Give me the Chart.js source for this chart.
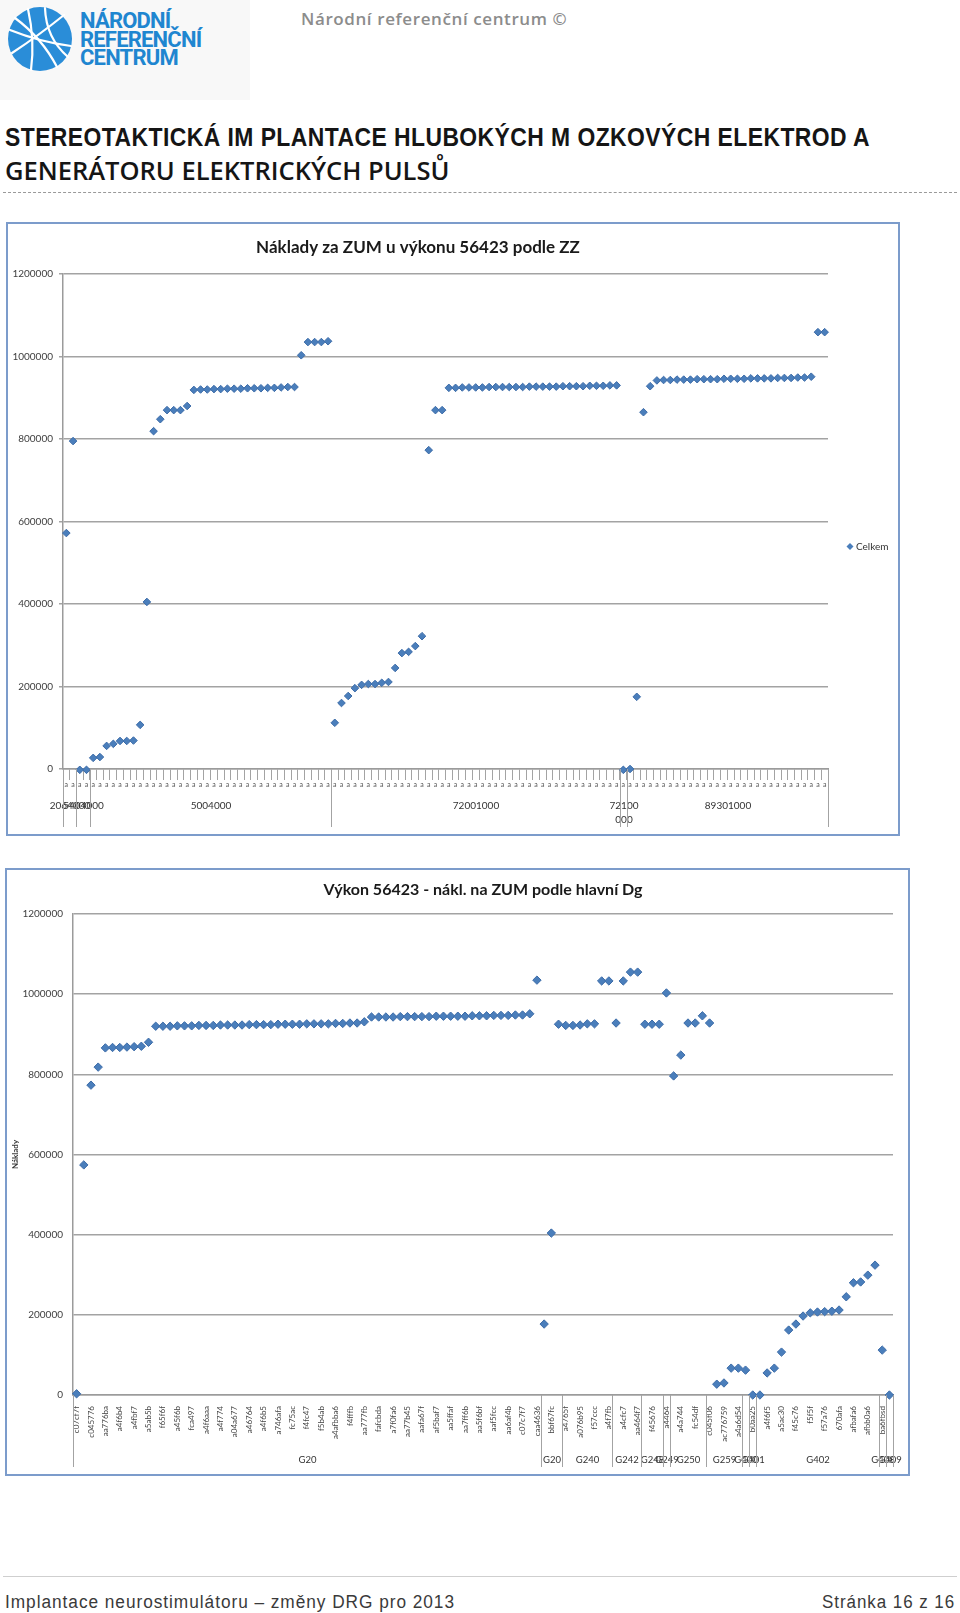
<!DOCTYPE html>
<html lang="cs">
<head>
<meta charset="utf-8">
<title>Implantace neurostimulátoru – změny DRG pro 2013</title>
<script src="https://cdn.jsdelivr.net/npm/chart.js"></script>
<style>
  html, body { margin: 0; padding: 0; background: #fff; }
  .page { position: relative; width: 960px; height: 1613px; overflow: hidden; font-family: "Liberation Sans", Arial, sans-serif; }
  .logo-bg { position: absolute; left: 0; top: 0; width: 250px; height: 100px; background: #f8f8f8; }
  .logo-svg { position: absolute; left: 0; top: 0; }
  .logo-text { position: absolute; left: 80px; top: 12px; font-family: Roboto, sans-serif; font-weight: 700; font-size: 22px; line-height: 18.5px; letter-spacing: -0.8px; color: #1f86d0; }
  .head-note { position: absolute; left: 301px; top: 10px; font-family: "Open Sans", sans-serif; font-weight: 600; font-size: 17px; line-height: 17px; letter-spacing: 0.6px; color: #8c8c8c; }
  .title1 { position: absolute; left: 5px; top: 124px; white-space: nowrap; font-family: "Liberation Sans", Arial, sans-serif; font-weight: 700; font-size: 26px; line-height: 26px; letter-spacing: 0.5px; color: #151515; }
  .title2 { position: absolute; left: 5px; top: 157px; white-space: nowrap; font-family: "Open Sans", sans-serif; font-weight: 600; font-size: 25.5px; line-height: 26px; color: #151515; }
  .rule { position: absolute; left: 3px; top: 192px; width: 954px; border-top: 1px dashed #9a9a9a; }
  .box { position: absolute; border: 2px solid #7c9ccb; background: #fff; }
  .box canvas { display: block; }
  .foot-rule { position: absolute; left: 3px; top: 1576px; width: 954px; border-top: 1px solid #cfcfcf; }
  .foot { position: absolute; top: 1593px; font-family: "Liberation Sans", Arial, sans-serif; font-size: 18px; line-height: 18px; letter-spacing: 1px; color: #3a3a3a; white-space: nowrap; }
</style>
</head>
<body>
<div class="page">
  <div class="logo-bg"></div>
  <svg class="logo-svg" width="90" height="90">
    <circle cx="40" cy="39" r="32" fill="#2a8dd8"/>
    <g stroke="#fff" stroke-width="2.2" fill="none" stroke-linecap="round">
      <path d="M10 30 Q40 42 71 46"/>
      <path d="M12 53 Q38 36 64 15"/>
      <path d="M28 9 Q35 40 31 70"/>
      <path d="M15 18 Q42 38 57 67"/>
      <path d="M45 8 Q46 38 68 57"/>
    </g>
  </svg>
  <div class="logo-text">NÁRODNÍ<br>REFERENČNÍ<br>CENTRUM</div>
  <div class="head-note">Národní referenční centrum ©</div>

  <div class="title1" id="title1">STEREOTAKTICKÁ IM PLANTACE HLUBOKÝCH M OZKOVÝCH ELEKTROD A</div>
  <div class="title2">GENERÁTORU ELEKTRICKÝCH PULSŮ</div>
  <div class="rule"></div>

  <div class="box" style="left:6px; top:222px;"><canvas id="chartZZ" width="890" height="610"></canvas></div>
  <div class="box" style="left:5px; top:868px;"><canvas id="chartDg" width="901" height="604"></canvas></div>

  <div class="foot-rule"></div>
  <div class="foot" id="footLeft" style="left:5px;">Implantace neurostimulátoru – změny DRG pro 2013</div>
  <div class="foot" id="footRight" style="right:5px;">Stránka 16 z 16</div>
</div>

<script>
// graf 1: naklady podle ZZ (poradi bodu odpovida kategoriim na ose x)
const zzCosts = [
  572000, 795000, -2000, -2000, 27000, 29000, 56000, 61000, 68000, 68000,
  69000, 107000, 405000, 819000, 848000, 870000, 870000, 870000, 880000,
  919000, 920000, 920000, 921000, 921000, 922000, 922000, 922000, 923000, 923000,
  923000, 924000, 924000, 925000, 926000, 926000,
  1003000, 1035000, 1035000, 1035000, 1037000,
  112000, 160000, 177000, 196000, 204000, 206000, 206000, 209000, 211000, 245000,
  281000, 284000, 298000, 322000,
  773000, 870000, 870000,
  924000, 924000, 925000, 925000, 925000, 925000, 926000, 926000, 926000, 926000,
  926000, 926000, 927000, 927000, 927000, 927000, 927000, 928000, 928000, 928000,
  928000, 929000, 929000, 929000, 930000, 930000,
  -2000, 0, 175000, 865000, 928000,
  942000, 943000, 943000, 944000, 944000, 944000, 945000, 945000, 945000, 945000,
  946000, 946000, 946000, 946000, 947000, 947000, 947000, 947000, 948000, 948000,
  948000, 949000, 949000, 951000,
  1059000, 1059000
];
const zzTickLabels = zzCosts.map(() => 'a');
const zzGroups = ['2064000', '5404000', '5004000', '72001000', ['72100', '000'], '89301000'];
const zzGroupSizes = [2, 2, 36, 43, 1, 30];

// graf 2: naklady podle hlavni diagnozy
const dgCosts = [
  3000, 574000, 773000, 818000, 866000, 867000, 867000, 868000, 869000, 870000,
  880000,
  920000, 920000, 920000, 921000, 921000, 921000, 922000, 922000, 922000, 923000,
  923000, 923000, 923000, 924000, 924000, 924000, 924000, 925000, 925000, 925000,
  925000, 926000, 926000, 926000, 926000, 927000, 927000, 928000, 928000, 931000,
  943000, 943000, 943000, 943000, 944000, 944000, 944000, 944000, 944000, 945000,
  945000, 945000, 945000, 945000, 946000, 946000, 946000, 947000, 947000, 947000,
  948000, 948000, 951000,
  1035000,
  177000, 404000, 925000,
  922000, 922000, 923000, 926000, 926000, 1033000, 1033000,
  928000, 1033000, 1055000, 1055000,
  925000, 925000, 925000,
  1003000,
  796000, 848000, 928000, 928000, 946000,
  928000, 27000, 30000, 67000, 67000,
  62000,
  0,
  0, 55000, 67000, 107000, 162000, 177000, 197000, 205000, 207000, 208000,
  209000, 212000, 245000, 280000, 282000, 299000, 324000,
  112000,
  0
];
const dgHashes = [
  'c07cf7f', 'c045776', 'aa776ba', 'a4f6b4', 'a4fbf7', 'a5ab5b', 'f65f6f', 'a45f6b',
  'fca497', 'a4f6aaa', 'a4f774', 'a04a677', 'a46764', 'a4f6b5', 'a746afa', 'fc75ac',
  'f4fc47', 'f5b4ab', 'a4afbba6', 'f4fffb', 'aa777fb', 'fafcbda', 'a7f0fa6', 'aa77b45',
  'aafa67f', 'af5baf7', 'aa5ffaf', 'aa7ff6b', 'aa5f6bf', 'aaf5fcc', 'aa6af4b', 'c07c7f7',
  'caa4636', 'bbf67fc', 'a4765f', 'a076b95', 'f57ccc', 'a4f7fb', 'a4cfc7', 'aa464f7',
  'f45676', 'a4464', 'a4a744', 'fc54df', 'c045f06', 'ac776759', 'a4a6d54', 'b0aa25',
  'a4f6f5', 'a5ac30', 'f45c76', 'f5f5f', 'f57a76', '670afa', 'afbafa6', 'afbb0a6', 'ba6fbsd'
];
// popisek jen u kazde druhe kategorie, jako v Excelu
const dgTickLabels = dgCosts.map((_, i) => (i % 2 ? '' : dgHashes[i / 2]));
const dgGroups = ['G20', 'G20', 'G240', 'G242', 'G248', 'G249', 'G250', 'G259', 'G400', 'G401', 'G402', 'G408', 'G409'];
const dgGroupSizes = [65, 3, 7, 4, 3, 1, 5, 5, 1, 1, 17, 1, 1];

const yTicks = [0, 200000, 400000, 600000, 800000, 1000000, 1200000];

const POINT = '#4a7ebb';
const POINT_EDGE = '#3d6ca8';
const GRID = '#a3a3a3';

// zuzeny text (v PDF je pismo Arial Narrow, tady neni) - dorovnat na sirku
function fitWidth(el, w, origin) {
  const now = el.getBoundingClientRect().width;
  el.style.transformOrigin = origin;
  el.style.transform = 'scaleX(' + (w / now) + ')';
}
fitWidth(document.getElementById('title1'), 865, '0 0');
fitWidth(document.getElementById('footLeft'), 450, '0 0');
fitWidth(document.getElementById('footRight'), 133, '100% 0');

Chart.defaults.font.family = 'Lato, "Open Sans", sans-serif';
Chart.defaults.color = '#333';

// druha uroven osy x (skupiny kategorii) - svisle oddelovace a popisky
function groupAxis(names, sizes, cfg) {
  return {
    id: 'groupAxis',
    afterDraw(chart) {
      const {ctx, chartArea, scales: {x}} = chart;
      const edge = i => Math.round(x.getPixelForValue(i - 0.5)) + 0.5;
      const yEnd = chartArea.bottom + cfg.lineEnd;
      ctx.save();
      ctx.strokeStyle = GRID;
      ctx.lineWidth = 1;
      ctx.fillStyle = '#333';
      ctx.font = cfg.font;
      ctx.textAlign = 'center';
      ctx.textBaseline = 'middle';
      ctx.beginPath();
      ctx.moveTo(edge(0), chartArea.bottom);
      ctx.lineTo(edge(0), yEnd);
      let start = 0;
      sizes.forEach((n, g) => {
        const end = start + n;
        const x0 = edge(start), x1 = edge(end);
        ctx.moveTo(x1, chartArea.bottom);
        ctx.lineTo(x1, yEnd);
        [].concat(names[g]).forEach((t, k) => {
          ctx.fillText(t, (x0 + x1) / 2, chartArea.bottom + cfg.labelY + k * 14);
        });
        start = end;
      });
      ctx.stroke();
      ctx.restore();
    }
  };
}

// legenda vpravo od grafu (jedna serie)
const sideLegend = {
  id: 'sideLegend',
  afterDraw(chart) {
    const {ctx, chartArea} = chart;
    const cx = chartArea.right + 22;
    const cy = (chartArea.top + chartArea.bottom) / 2 + 25;
    const r = 3.5;
    ctx.save();
    ctx.fillStyle = POINT;
    ctx.beginPath();
    ctx.moveTo(cx, cy - r); ctx.lineTo(cx + r, cy); ctx.lineTo(cx, cy + r); ctx.lineTo(cx - r, cy);
    ctx.closePath();
    ctx.fill();
    ctx.fillStyle = '#333';
    ctx.font = '10px Lato, sans-serif';
    ctx.textBaseline = 'middle';
    ctx.fillText(chart.data.datasets[0].label, cx + 6, cy);
    ctx.restore();
  }
};

function yScale(width, extra) {
  return Object.assign({
    min: 0,
    max: 1200000,
    afterBuildTicks: s => { s.ticks = yTicks.map(v => ({value: v})); },
    border: { color: '#9b9b9b', width: 1.5 },
    afterFit: s => { s.width = width; }
  }, extra);
}

function pointSet(label, data, radius) {
  return {
    label: label,
    data: data,
    showLine: false,
    pointStyle: 'rectRot',
    pointRadius: radius,
    pointBackgroundColor: POINT,
    pointBorderColor: POINT_EDGE,
    pointBorderWidth: 1,
    clip: false
  };
}

new Chart(document.getElementById('chartZZ'), {
  type: 'line',
  data: { labels: zzTickLabels, datasets: [pointSet('Celkem', zzCosts, 3.8)] },
  options: {
    responsive: false,
    animation: false,
    events: [],
    layout: { padding: { left: 0, right: 70, top: 0, bottom: 0 } },
    plugins: {
      legend: { display: false },
      tooltip: { enabled: false },
      title: {
        display: true,
        text: 'Náklady za ZUM u výkonu 56423 podle ZZ',
        color: '#1a1a1a',
        font: { size: 17, weight: 'bold' },
        padding: { top: 13, bottom: 16.6 }
      }
    },
    scales: {
      x: {
        offset: true,
        grid: { offset: true, drawOnChartArea: false, tickLength: 11, color: GRID },
        border: { color: '#9b9b9b', width: 1.5 },
        ticks: { autoSkip: false, minRotation: 0, maxRotation: 0, padding: 1, font: { size: 7 }, color: '#555' },
        afterFit: s => { s.height = 65; }
      },
      y: yScale(55, {
        grid: { color: GRID, lineWidth: 1.5, tickLength: 4 },
        ticks: { callback: v => String(v), font: { size: 10 }, color: '#404040', padding: 6 }
      })
    }
  },
  plugins: [groupAxis(zzGroups, zzGroupSizes, { labelY: 37, lineEnd: 58, font: '10px Lato, sans-serif' }), sideLegend]
});

new Chart(document.getElementById('chartDg'), {
  type: 'line',
  data: { labels: dgTickLabels, datasets: [pointSet('Celkem', dgCosts, 4.2)] },
  options: {
    responsive: false,
    animation: false,
    events: [],
    layout: { padding: { left: 0, right: 15, top: 0, bottom: 0 } },
    plugins: {
      legend: { display: false },
      tooltip: { enabled: false },
      title: {
        display: true,
        fullSize: false,
        text: 'Výkon 56423 - nákl. na ZUM podle hlavní Dg',
        color: '#1a1a1a',
        font: { size: 16, weight: 'bold' },
        padding: { top: 10.4, bottom: 14.4 }
      }
    },
    scales: {
      x: {
        offset: true,
        grid: { display: false },
        border: { color: '#9b9b9b', width: 1.5 },
        ticks: { autoSkip: false, minRotation: 90, maxRotation: 90, padding: 3, font: { size: 8 }, color: '#444' },
        afterFit: s => { s.height = 79; }
      },
      y: yScale(66, {
        title: { display: true, text: 'Náklady', color: '#333', font: { size: 8, weight: 'bold' }, padding: { top: 4, bottom: 4 } },
        grid: { color: GRID, lineWidth: 1.5, drawTicks: false },
        ticks: { callback: v => String(v), font: { size: 10 }, color: '#404040', padding: 10 }
      })
    }
  },
  plugins: [groupAxis(dgGroups, dgGroupSizes, { labelY: 65, lineEnd: 72, font: '9.5px Lato, sans-serif' })]
});
</script>
</body>
</html>
